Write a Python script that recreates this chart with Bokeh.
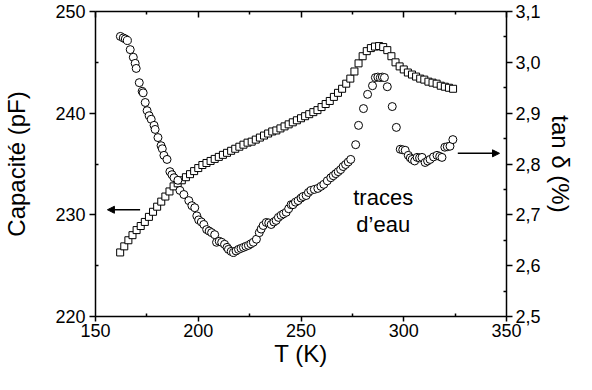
from bokeh.plotting import figure
from bokeh.models import (ColumnDataSource, LinearAxis, Range1d, Arrow, NormalHead,
                          FixedTicker, CustomJSTickFormatter)
from bokeh.core.properties import value
from bokeh.embed import file_html
from bokeh.resources import INLINE

# ---- Capacitance (squares, left axis) ----
cap_T = [162, 164, 166, 168, 170, 172, 174, 176, 178, 180, 182, 184, 186, 188, 190,
         192, 194, 196, 198, 200, 202, 204, 206, 208, 210, 212, 214, 216, 218, 220,
         222, 224, 226, 228, 230, 232, 234, 236, 238, 240, 242, 244, 246, 248, 250,
         252, 254, 256, 258, 260, 262, 264, 266, 268, 270, 272, 274, 276, 278, 280,
         282, 284, 286, 288, 290, 292, 294, 296, 298, 300, 302, 304, 306, 308, 310,
         312, 314, 316, 318, 320, 322, 324]
cap_C = [226.3, 226.9, 227.5, 228.0, 228.5, 228.9, 229.3, 229.8, 230.3, 230.8, 231.3,
         231.8, 232.3, 232.8, 233.1, 233.4, 233.7, 234.0, 234.3, 234.6, 234.9, 235.1,
         235.3, 235.5, 235.7, 235.9, 236.1, 236.3, 236.5, 236.7, 236.9, 237.1, 237.2,
         237.4, 237.6, 237.8, 238.0, 238.2, 238.3, 238.5, 238.7, 238.9, 239.1, 239.3,
         239.5, 239.7, 239.9, 240.1, 240.3, 240.6, 240.9, 241.2, 241.6, 242.0, 242.4,
         242.9, 243.4, 244.1, 244.9, 245.6, 246.1, 246.4, 246.55, 246.6, 246.5, 246.2,
         245.6, 245.0, 244.6, 244.3, 244.0, 243.8, 243.6, 243.4, 243.3, 243.1, 243.0,
         242.9, 242.7, 242.6, 242.5, 242.4]

# ---- tan delta (circles, right axis) ----
tan_T = [162.1, 163.5, 164.5, 165.5, 166.9, 168.4, 169.3, 169.8, 171.3, 172.7, 173.2,
         174.2, 175.1, 176.1, 177.1, 178.5, 179.0, 180.4, 181.9, 182.5, 183.3, 184.8,
         186.2, 187.2, 188.2, 190.1, 191.1, 193.0, 195.4, 196.9, 198.3, 199.3, 200.2,
         201.5, 202.7, 204.1, 205.3, 206.5, 208.0, 208.9, 210.2, 211.4, 212.8, 214.0,
         214.7, 216.0, 217.1, 218.4, 219.6, 220.8, 222.0, 223.2, 224.4, 225.6, 226.8,
         228.3, 229.7, 230.6, 231.6, 233.1, 234.3, 235.5, 236.8, 237.9, 239.0, 240.3,
         241.5, 242.8, 244.0, 245.2, 246.1, 247.3, 248.6, 250.0, 251.0, 252.5, 253.6,
         254.8, 256.5, 258.2, 259.7, 261.1, 262.8, 264.5, 265.7, 266.9, 268.1, 269.3,
         270.5, 271.7, 273.0, 274.2, 276.6, 278.0, 280.4, 282.4, 284.8, 286.2, 287.4,
         288.6, 289.6, 290.6, 292.0, 294.4, 296.4, 298.3, 299.5, 300.7, 302.2, 303.2,
         304.1, 305.3, 306.5, 307.7, 308.9, 310.4, 311.6, 312.8, 314.5, 316.2, 317.5,
         318.6, 320.0, 321.2, 322.5, 323.9]
tan_D = [3.051, 3.048, 3.046, 3.043, 3.025, 3.010, 2.998, 2.988, 2.960, 2.943, 2.940,
         2.921, 2.905, 2.895, 2.888, 2.876, 2.868, 2.852, 2.836, 2.830, 2.817, 2.809,
         2.785, 2.779, 2.773, 2.768, 2.748, 2.740, 2.728, 2.718, 2.714, 2.698, 2.690,
         2.686, 2.681, 2.671, 2.668, 2.665, 2.661, 2.646, 2.648, 2.646, 2.642, 2.636,
         2.632, 2.628, 2.626, 2.629, 2.632, 2.634, 2.636, 2.638, 2.640, 2.643, 2.646,
         2.652, 2.665, 2.672, 2.679, 2.685, 2.684, 2.681, 2.686, 2.689, 2.695, 2.699,
         2.702, 2.705, 2.712, 2.720, 2.720, 2.725, 2.728, 2.733, 2.736, 2.738, 2.744,
         2.748, 2.750, 2.752, 2.756, 2.760, 2.767, 2.773, 2.777, 2.781, 2.785, 2.789,
         2.795, 2.799, 2.804, 2.809, 2.838, 2.876, 2.909, 2.937, 2.954, 2.970, 2.971,
         2.970, 2.971, 2.970, 2.952, 2.913, 2.872, 2.829, 2.828, 2.827, 2.817, 2.812,
         2.809, 2.806, 2.813, 2.812, 2.813, 2.803, 2.806, 2.809, 2.814, 2.817, 2.815,
         2.813, 2.833, 2.834, 2.835, 2.848]

# ---- axes ticks ----
x_ticks = [150, 200, 250, 300, 350]
x_minor = [175, 225, 275, 325]
cap_ticks = [220, 230, 240, 250]
cap_minor = [225, 235, 245]
tan_ticks = [2.5, 2.6, 2.7, 2.8, 2.9, 3.0, 3.1]
tan_minor = [2.55, 2.65, 2.75, 2.85, 2.95, 3.05]

# ---- annotations ----
note_lines = ["traces", "d\u2019eau"]
note_T = [290, 290]
note_D = [2.734, 2.681]
left_arrow = dict(x_start=171.7, x_end=155.8, y=230.5)
right_arrow = dict(x_start=326.3, x_end=346.6, y=2.821)

FONT = "Liberation Sans"

p = figure(width=576, height=374,
           x_range=Range1d(150, 350), y_range=Range1d(220, 250),
           output_backend="svg", toolbar_location=None,
           min_border_left=95, min_border_right=67, min_border_top=11,
           min_border_bottom=58, x_axis_location=None, y_axis_location=None)
p.extra_y_ranges = {"tan": Range1d(2.5, 3.1)}
p.grid.visible = False
p.outline_line_color = None
p.background_fill_color = "white"
p.border_fill_color = "white"


def style(ax, tick_out=6, tick_in=0, minor_in=3, minor_out=0):
    ax.axis_line_width = 1.5
    ax.major_tick_line_width = 1.5
    ax.minor_tick_line_width = 1.5
    ax.major_tick_out = tick_out
    ax.major_tick_in = tick_in
    ax.minor_tick_in = minor_in
    ax.minor_tick_out = minor_out
    ax.major_label_text_font = FONT
    ax.major_label_text_font_size = "18px"
    ax.major_label_text_color = "black"
    ax.axis_label_text_font = FONT
    ax.axis_label_text_font_size = "24px"
    ax.axis_label_text_font_style = "normal"
    ax.axis_label_text_color = "black"


xb = LinearAxis(axis_label="T (K)")
xb.ticker = FixedTicker(ticks=x_ticks, minor_ticks=x_minor)
style(xb, tick_out=5)
xb.major_label_standoff = 2
xb.axis_label_standoff = 0
p.add_layout(xb, "below")

xt = LinearAxis()
xt.ticker = FixedTicker(ticks=x_ticks, minor_ticks=x_minor)
style(xt, tick_out=0, tick_in=6)
xt.major_label_text_font_size = "1px"
xt.formatter = CustomJSTickFormatter(code="return '';")
xt.major_label_standoff = 0
p.add_layout(xt, "above")

yl = LinearAxis(axis_label="Capacit\u00e9 (pF)")
yl.ticker = FixedTicker(ticks=cap_ticks, minor_ticks=cap_minor)
style(yl)
yl.major_label_standoff = 4
yl.axis_label_standoff = 22
p.add_layout(yl, "left")

yr = LinearAxis(y_range_name="tan", axis_label="tan \u03b4 (%)")
yr.ticker = FixedTicker(ticks=tan_ticks, minor_ticks=tan_minor)
yr.formatter = CustomJSTickFormatter(code="return tick.toFixed(1).replace('.', ',');")
style(yr)
yr.major_label_standoff = 3
yr.axis_label_standoff = 3
p.add_layout(yr, "right")

cap_src = ColumnDataSource(dict(T=cap_T, C=cap_C))
tan_src = ColumnDataSource(dict(T=tan_T, D=tan_D))

p.scatter("T", "C", source=cap_src, marker="square", size=7,
          fill_color="white", line_color="black", line_width=1)
p.scatter("T", "D", source=tan_src, marker="circle", size=8, y_range_name="tan",
          fill_color="white", line_color="black", line_width=1)

note_src = ColumnDataSource(dict(x=note_T, y=note_D, t=note_lines))
p.text("x", "y", text="t", source=note_src, y_range_name="tan",
       text_font=value(FONT), text_font_size="22px", text_align="center",
       text_baseline="alphabetic", text_color="black")

p.add_layout(Arrow(end=NormalHead(size=7, fill_color="black", line_color="black"),
                   x_start=left_arrow["x_start"], y_start=left_arrow["y"],
                   x_end=left_arrow["x_end"], y_end=left_arrow["y"],
                   line_width=1.5, line_color="black"))
p.add_layout(Arrow(end=NormalHead(size=7, fill_color="black", line_color="black"),
                   x_start=right_arrow["x_start"], y_start=right_arrow["y"],
                   x_end=right_arrow["x_end"], y_end=right_arrow["y"],
                   line_width=1.5, line_color="black", y_range_name="tan"))

open("out.html", "w").write(file_html(p, INLINE))
